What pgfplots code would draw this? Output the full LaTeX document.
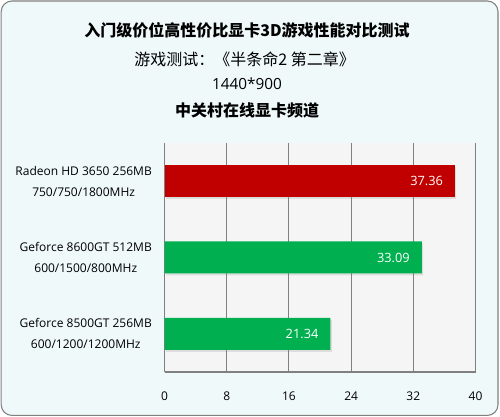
\documentclass[border=0pt]{standalone}
\usepackage{pgfplots}
\pgfplotsset{compat=1.18}
\usetikzlibrary{shadows}
\usepackage{fontspec}
\setmainfont{Open Sans}
\newfontfamily\cjk{Noto Sans CJK SC}
\definecolor{barred}{RGB}{192,0,0}
\definecolor{bargreen}{RGB}{0,176,80}
\definecolor{outerbg}{RGB}{239,249,249}
\definecolor{plotbg}{RGB}{245,245,245}
\definecolor{linegray}{RGB}{128,128,128}
\begin{document}
\begin{tikzpicture}
\useasboundingbox (0pt,0pt) rectangle (375pt,312.75pt);
\fill[white] (0pt,0pt) rectangle (375pt,312.75pt);
\draw[linegray, fill=outerbg, rounded corners=8pt, line width=0.8pt] (0.9pt,1.2pt) rectangle (373.5pt,312pt);
\node[font=\cjk\bfseries\fontsize{12}{14}\selectfont] at (185.25pt,290.25pt) {入门级价位高性价比显卡3D游戏性能对比测试};
\node[font=\cjk\fontsize{12}{14}\selectfont] at (183.5pt,268.5pt) {游戏测试：《半条命2 第二章》};
\node[font=\fontsize{11.5}{14}\selectfont] at (185.25pt,249.75pt) {1440*900};
\node[font=\cjk\bfseries\fontsize{12}{14}\selectfont] at (185.25pt,230.25pt) {中关村在线显卡频道};
\begin{axis}[
  at={(123.4pt,33.75pt)}, anchor=south west,
  scale only axis, width=233.25pt, height=171.75pt,
  xbar, bar width=24pt, bar shift=0pt,
  xmin=0, xmax=40, xtick={0,8,...,40},
  ymin=-0.5, ymax=2.5, y dir=reverse,
  ytick={0,1,2},
  yticklabels={{Radeon HD 3650 256MB\\750/750/1800MHz},{Geforce 8600GT 512MB\\600/1500/800MHz},{Geforce 8500GT 256MB\\600/1200/1200MHz}},
  yticklabel style={align=center, font=\fontsize{9}{15.75}\selectfont, text=black},
  yticklabel shift=6pt,
  xticklabel style={font=\fontsize{9}{11}\selectfont},
  xticklabel shift=11pt,
  /pgf/number format/assume math mode=true,
  axis background/.style={fill=plotbg},
  axis x line*=bottom, axis y line*=left,
  axis line style={linegray, line width=0.8pt, -},
  major tick length=0pt,
  xmajorgrids, major grid style={linegray, line width=0.8pt},
  nodes near coords={\pgfmathprintnumber[fixed,fixed zerofill,precision=2]{\pgfplotspointmeta}},
  point meta=x,
  every node near coord/.append style={anchor=east, xshift=-5.5pt, text=white, font=\fontsize{9.6}{11}\selectfont, /pgf/number format/assume math mode=true},
]
\addplot[fill=barred, draw=none, drop shadow={shadow xshift=1pt, shadow yshift=-1.5pt, opacity=0.2}] coordinates {(37.36,0)};
\addplot[fill=bargreen, draw=none, drop shadow={shadow xshift=1pt, shadow yshift=-1.5pt, opacity=0.2}] coordinates {(33.09,1) (21.34,2)};
\end{axis}
\end{tikzpicture}
\end{document}
